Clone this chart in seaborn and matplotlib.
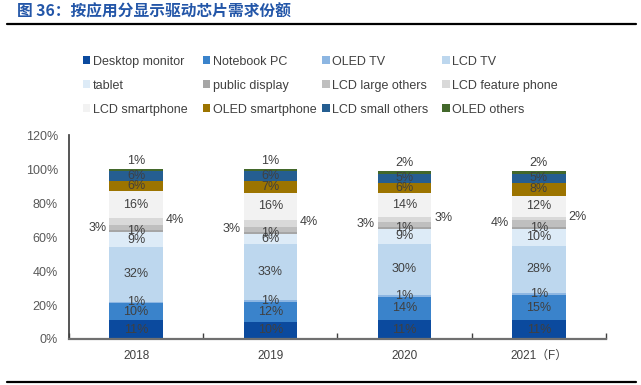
import numpy as np
import pandas as pd
import matplotlib.pyplot as plt
import seaborn as sns
from matplotlib.patches import Patch


sns.set_theme(style="white")
plt.rcParams['font.family'] = ['Liberation Sans', 'Noto Sans CJK SC', 'DejaVu Sans']

years = ['2018', '2019', '2020', '2021（F）']
segments = ['Desktop monitor', 'Notebook PC', 'OLED TV', 'LCD TV',
            'tablet', 'public display', 'LCD large others', 'LCD feature phone',
            'LCD smartphone', 'OLED smartphone', 'LCD small others', 'OLED others']
colors = ['#0B4A9E', '#3A83CB', '#8DB6E2', '#BDD7EE',
          '#DDEBF7', '#A6A6A6', '#BFBFBF', '#D9D9D9',
          '#F2F2F2', '#9C7400', '#255E91', '#43682B']

desktop_monitor = [11, 10, 11, 11]
notebook_pc = [10, 12, 14, 15]
oled_tv = [1, 1, 1, 1]
lcd_tv = [32, 33, 30, 28]
tablet = [9, 6, 9, 10]
public_display = [1, 1, 1, 1]
lcd_large_others = [3, 3, 3, 4]
lcd_feature_phone = [4, 4, 3, 2]
lcd_smartphone = [16, 16, 14, 12]
oled_smartphone = [6, 7, 6, 8]
lcd_small_others = [6, 6, 5, 5]
oled_others = [1, 1, 2, 2]

values = np.array([desktop_monitor, notebook_pc, oled_tv, lcd_tv, tablet,
                   public_display, lcd_large_others, lcd_feature_phone,
                   lcd_smartphone, oled_smartphone, lcd_small_others, oled_others], dtype=float)
cum = values.cumsum(axis=0)

fig = plt.figure(figsize=(6.41, 3.85), dpi=100)
ax = fig.add_axes([0.1076, 0.1195, 0.8378, 0.5295])

# stacked bars: draw cumulative totals from the top segment down
for i in range(len(segments) - 1, -1, -1):
    df = pd.DataFrame({'year': years, 'total': cum[i]})
    sns.barplot(data=df, x='year', y='total', color=colors[i], width=0.4,
                linewidth=0, saturation=1, ax=ax, errorbar=None)

txt = '#404040'
for j in range(len(years)):
    for i, name in enumerate(segments):
        v = values[i, j]
        mid = cum[i, j] - v / 2
        label = f'{int(v)}%'
        if name == 'LCD large others':
            ax.text(j - 0.22, mid, label, ha='right', va='center', fontsize=9, color=txt)
        elif name == 'LCD feature phone':
            ax.text(j + 0.22, mid + 1, label, ha='left', va='center', fontsize=9, color=txt)
        elif name == 'OLED others':
            ax.text(j, cum[i, j] + 1, label, ha='center', va='bottom', fontsize=9, color=txt)
        else:
            ax.text(j, mid, label, ha='center', va='center', fontsize=9, color=txt)

ax.set_xlim(-0.5, 3.5)
ax.set_ylim(0, 120)
ax.set_yticks(range(0, 121, 20))
ax.set_yticklabels([f'{t}%' for t in range(0, 121, 20)])
ax.set_xticks(np.arange(-0.5, 3.6, 1), minor=True)
ax.set_xlabel('')
ax.set_ylabel('')
ax.tick_params(axis='y', which='major', direction='in', length=4, width=1,
               color='#404040', pad=8, labelsize=9, labelcolor='#595959')
ax.tick_params(axis='x', which='major', length=0, pad=8, labelsize=8.5, labelcolor='#404040')
ax.tick_params(axis='x', which='minor', direction='in', length=4, width=1,
               color='#404040', bottom=True)
for s in ['top', 'right']:
    ax.spines[s].set_visible(False)
ax.spines['left'].set_color('#404040')
ax.spines['bottom'].set_color('#707070')
ax.spines['bottom'].set_linewidth(1.6)
ax.grid(False)

# legend: four columns, row-major order
col_x = [0.129, 0.316, 0.503, 0.690]
for c in range(4):
    handles = [Patch(facecolor=colors[c + 4 * r], edgecolor='none', label=segments[c + 4 * r])
               for r in range(3)]
    fig.legend(handles=handles, loc='upper left', bbox_to_anchor=(col_x[c], 0.855),
               frameon=False, fontsize=9, handlelength=0.6, handleheight=0.6,
               handletextpad=0.2, labelspacing=0.95, borderpad=0, borderaxespad=0,
               labelcolor='#404040')

fig.text(0.026, 0.99, '图 36：按应用分显示驱动芯片需求份额', ha='left', va='top',
         fontsize=11.3, fontweight='bold', color='#2356A8',
         family=['Noto Sans CJK SC', 'DejaVu Sans'])
fig.add_artist(plt.Line2D([0.011, 0.992], [0.938, 0.938], color='black', linewidth=1.6))
fig.add_artist(plt.Line2D([0.011, 0.992], [0.008, 0.008], color='black', linewidth=1.6))

plt.savefig('out.png', dpi=100)
plt.close()
